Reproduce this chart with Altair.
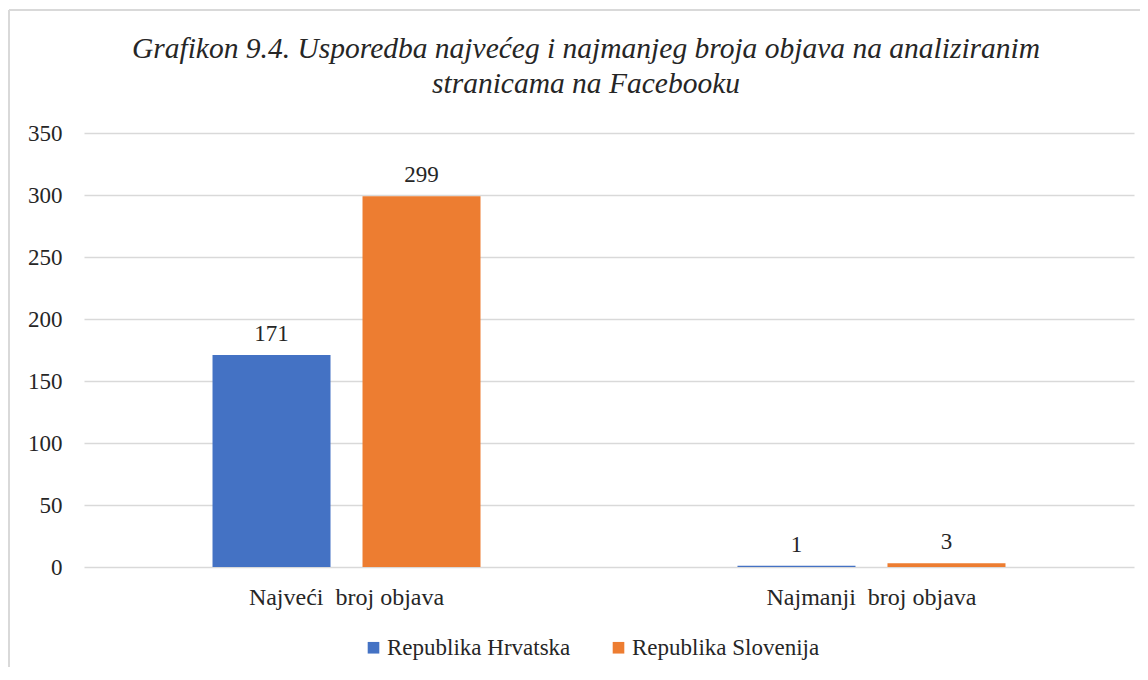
import altair as alt
import pandas as pd

categories = ["Najveći\u00a0 broj objava", "Najmanji\u00a0 broj objava"]
series = ["Republika Hrvatska", "Republika Slovenija"]
hrvatska = [171, 1]
slovenija = [299, 3]
colors = ["#4472C4", "#ED7D31"]
y_ticks = [0, 50, 100, 150, 200, 250, 300, 350]

rows = []
for i, c in enumerate(categories):
    rows.append({"kategorija": c, "drzava": series[0], "vrijednost": hrvatska[i]})
    rows.append({"kategorija": c, "drzava": series[1], "vrijednost": slovenija[i]})
df = pd.DataFrame(rows)

FONT = "Liberation Serif"
TXT = "#262626"

x = alt.X("kategorija:N", sort=categories, title=None,
          scale=alt.Scale(paddingInner=0.4895, paddingOuter=0.2448),
          axis=alt.Axis(labelAngle=0, ticks=False, domain=False, labelPadding=18,
                        labelFontSize=24, labelFont=FONT, labelColor=TXT, labelLimit=0))
xoff = alt.XOffset("drzava:N", sort=series, scale=alt.Scale(paddingInner=0.2133, paddingOuter=0))

base = alt.Chart(df).encode(x=x, xOffset=xoff)

bars = base.mark_bar().encode(
    y=alt.Y("vrijednost:Q", title=None,
            scale=alt.Scale(domain=[0, 350]),
            axis=alt.Axis(values=y_ticks, ticks=False, domain=False, labelPadding=22,
                          labelFontSize=23, labelFont=FONT, labelColor=TXT,
                          gridColor="#D9D9D9", gridWidth=1.5)),
    color=alt.Color("drzava:N", sort=series,
                    scale=alt.Scale(domain=series, range=colors),
                    legend=alt.Legend(title=None, orient="none", direction="horizontal",
                                      legendX=278, legendY=503, symbolType="square",
                                      symbolSize=135, symbolStrokeWidth=0, symbolOpacity=1,
                                      labelFontSize=23, labelFont=FONT, labelColor=TXT,
                                      labelOffset=2, columnPadding=36, labelLimit=0)),
)

labels = base.mark_text(baseline="bottom", dy=-9, fontSize=23, font=FONT, color=TXT).encode(
    y=alt.Y("vrijednost:Q"),
    text=alt.Text("vrijednost:Q"),
)

border_df = pd.DataFrame({"k": [0]})
border_left = alt.Chart(border_df).mark_rule(color="#D9D9D9", strokeWidth=2).encode(
    x=alt.value(-75), y=alt.value(-123), y2=alt.value(580))
border_top = alt.Chart(border_df).mark_rule(color="#D9D9D9", strokeWidth=2).encode(
    x=alt.value(-75), x2=alt.value(1070), y=alt.value(-123))

chart = alt.layer(border_left, border_top, bars, labels).properties(
    width=1050, height=434,
    title=alt.TitleParams(
        ["Grafikon 9.4. Usporedba najvećeg i najmanjeg broja objava na analiziranim",
         "stranicama na Facebooku"],
        font=FONT, fontSize=29.5, fontStyle="italic", fontWeight="normal", color=TXT,
        anchor="middle", dx=-23, lineHeight=35, offset=-90),
    autosize=alt.AutoSizeParams(type="none"),
    padding={"left": 76, "top": 125, "right": 6, "bottom": 100},
).configure(background="white").configure_view(stroke=None)

chart.save("out.html", embed_options={"renderer": "svg", "actions": False})
